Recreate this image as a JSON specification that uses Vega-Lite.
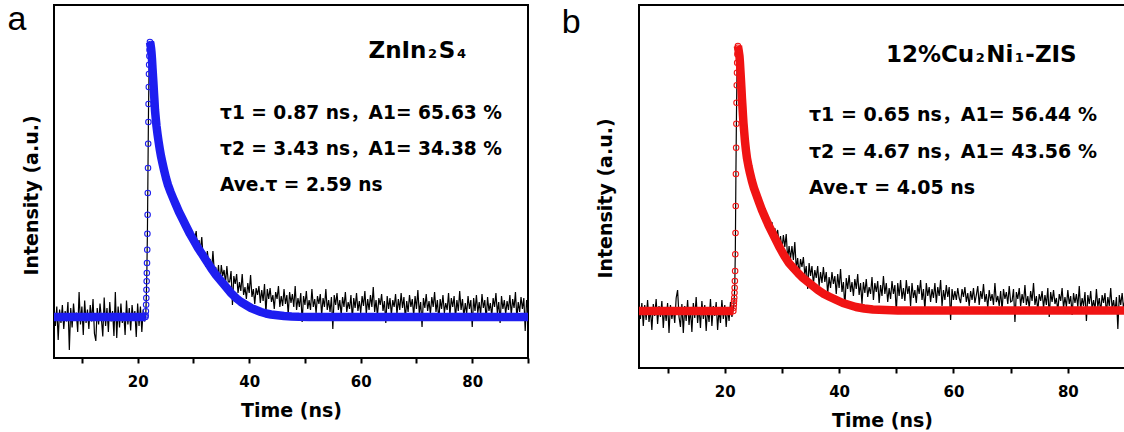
{
"$schema":"https://vega.github.io/schema/vega-lite/v6.json",
"padding":{"left":6,"top":2,"right":0,"bottom":0},
"spacing":30,
"background":"white",
"config":{"view":{"stroke":"#000000","strokeWidth":2},"axis":{"grid":false},"font":"DejaVu Sans"},
"datasets":{
"rawA":[{"t":5,"v":45.5},{"t":5.25,"v":32},{"t":5.5,"v":51.5},{"t":5.75,"v":18},{"t":6,"v":48.5},{"t":6.25,"v":35},{"t":6.5,"v":53},{"t":6.75,"v":29},{"t":7,"v":47},{"t":7.25,"v":36.5},{"t":7.5,"v":56},{"t":7.75,"v":8},{"t":8,"v":50},{"t":8.25,"v":30.5},{"t":8.5,"v":54.5},{"t":8.75,"v":38},{"t":9,"v":45.5},{"t":9.25,"v":26},{"t":9.5,"v":66},{"t":9.75,"v":33.5},{"t":10,"v":51.5},{"t":10.25,"v":23},{"t":10.5,"v":57.5},{"t":10.75,"v":35},{"t":11,"v":48.5},{"t":11.25,"v":29},{"t":11.5,"v":53},{"t":11.75,"v":36.5},{"t":12,"v":59},{"t":12.25,"v":24.5},{"t":12.5,"v":17},{"t":12.75,"v":50},{"t":13,"v":33.5},{"t":13.25,"v":54.5},{"t":13.5,"v":39.5},{"t":13.75,"v":21.5},{"t":14,"v":60.5},{"t":14.25,"v":32},{"t":14.5,"v":50},{"t":14.75,"v":26},{"t":15,"v":56},{"t":15.25,"v":36.5},{"t":15.5,"v":47},{"t":15.75,"v":22},{"t":16,"v":66},{"t":16.25,"v":20},{"t":16.5,"v":51.5},{"t":16.75,"v":30.5},{"t":17,"v":54.5},{"t":17.25,"v":35},{"t":17.5,"v":45.5},{"t":17.75,"v":23},{"t":18,"v":57.5},{"t":18.25,"v":33.5},{"t":18.5,"v":50},{"t":18.75,"v":27.5},{"t":19,"v":53},{"t":19.25,"v":38},{"t":19.5,"v":47},{"t":19.75,"v":21},{"t":20,"v":54.5},{"t":20.25,"v":32},{"t":20.5,"v":51.5},{"t":20.75,"v":26},{"t":21,"v":48.5},{"t":21.25,"v":36.5},
{"t":21.45,"v":42},{"t":21.55,"v":60},{"t":21.65,"v":86},{"t":21.75,"v":124},{"t":21.85,"v":187},{"t":21.95,"v":249},{"t":22.05,"v":290},{"t":22.15,"v":312},{"t":22.25,"v":314},{"t":22.4,"v":309},{"t":22.55,"v":300},{"t":22.7,"v":287},{"t":22.85,"v":272},{"t":23,"v":257},{"t":23.2,"v":241},{"t":23.4,"v":231},{"t":23.7,"v":218},{"t":24,"v":208},{"t":24.3,"v":199},{"t":24.6,"v":192},{"t":24.9,"v":184},{"t":25.2,"v":177},{"t":25.5,"v":172},{"t":25.75,"v":166},{"t":26,"v":163},{"t":26.25,"v":158},
{"t":26.5,"v":160},{"t":26.75,"v":153},{"t":27,"v":156},{"t":27.25,"v":149},{"t":27.5,"v":144},{"t":27.75,"v":148},{"t":28,"v":141},{"t":28.25,"v":143},{"t":28.5,"v":133},{"t":28.75,"v":134},{"t":29,"v":125},{"t":29.25,"v":130},{"t":29.5,"v":123},{"t":29.75,"v":127},{"t":30,"v":117},{"t":30.25,"v":120},{"t":30.5,"v":127},{"t":30.75,"v":106},{"t":31,"v":118},{"t":31.25,"v":108},{"t":31.5,"v":121},{"t":31.75,"v":100},{"t":32,"v":106},{"t":32.25,"v":91},{"t":32.5,"v":107},{"t":32.75,"v":94},{"t":33,"v":99},{"t":33.25,"v":86},{"t":33.5,"v":107},{"t":33.75,"v":86},{"t":34,"v":91},{"t":34.25,"v":79},{"t":34.5,"v":93},{"t":34.75,"v":73},{"t":35,"v":93},{"t":35.25,"v":82},{"t":35.5,"v":88},{"t":35.75,"v":75},{"t":36,"v":92},{"t":36.25,"v":76},{"t":36.5,"v":76},{"t":36.75,"v":87},{"t":37,"v":53},{"t":37.25,"v":82},{"t":37.5,"v":74},{"t":37.75,"v":84},{"t":38,"v":65},{"t":38.25,"v":76},{"t":38.5,"v":67},{"t":38.75,"v":84},{"t":39,"v":63},{"t":39.25,"v":71},{"t":39.5,"v":59},{"t":39.75,"v":75},{"t":40,"v":65},{"t":40.25,"v":83},{"t":40.5,"v":61},{"t":40.75,"v":69},{"t":41,"v":54},{"t":41.25,"v":70},{"t":41.5,"v":63},{"t":41.75,"v":72},{"t":42,"v":55},{"t":42.25,"v":68},{"t":42.5,"v":57},{"t":42.75,"v":74},{"t":43,"v":45},{"t":43.25,"v":69},{"t":43.5,"v":59},{"t":43.75,"v":70},{"t":44,"v":56},{"t":44.25,"v":63},{"t":44.5,"v":49},{"t":44.75,"v":66},{"t":45,"v":59},{"t":45.25,"v":72},{"t":45.5,"v":51},{"t":45.75,"v":62},{"t":46,"v":52},{"t":46.25,"v":69},{"t":46.5,"v":54},{"t":46.75,"v":63},{"t":47,"v":44},{"t":47.25,"v":66},{"t":47.5,"v":55},{"t":47.75,"v":64},{"t":48,"v":51},{"t":48.25,"v":72},{"t":48.5,"v":48},{"t":48.75,"v":60},{"t":49,"v":51},{"t":49.25,"v":65},{"t":49.5,"v":36},{"t":49.75,"v":62},{"t":50,"v":53},{"t":50.25,"v":67},{"t":50.5,"v":49},{"t":50.75,"v":58},{"t":51,"v":48},{"t":51.25,"v":69},{"t":51.5,"v":51},{"t":51.75,"v":59},{"t":52,"v":45},{"t":52.25,"v":62},{"t":52.5,"v":54},{"t":52.75,"v":64},{"t":53,"v":43},{"t":53.25,"v":60},{"t":53.5,"v":51},{"t":53.75,"v":69},{"t":54,"v":48},{"t":54.25,"v":58},{"t":54.5,"v":46},{"t":54.75,"v":61},{"t":55,"v":29},{"t":55.25,"v":63},{"t":55.5,"v":53},{"t":55.75,"v":65},{"t":56,"v":48},{"t":56.25,"v":58},{"t":56.5,"v":43},{"t":56.75,"v":61},{"t":57,"v":51},{"t":57.25,"v":66},{"t":57.5,"v":46},{"t":57.75,"v":56},{"t":58,"v":49},{"t":58.25,"v":63},{"t":58.5,"v":39},{"t":58.75,"v":60},{"t":59,"v":50},{"t":59.25,"v":65},{"t":59.5,"v":47},{"t":59.75,"v":57},{"t":60,"v":45},{"t":60.25,"v":62},{"t":60.5,"v":52},{"t":60.75,"v":67},{"t":61,"v":44},{"t":61.25,"v":59},{"t":61.5,"v":48},{"t":61.75,"v":63},{"t":62,"v":51},{"t":62.25,"v":71},{"t":62.5,"v":46},{"t":62.75,"v":58},{"t":63,"v":42},{"t":63.25,"v":60},{"t":63.5,"v":53},{"t":63.75,"v":64},{"t":64,"v":47},{"t":64.25,"v":57},{"t":64.5,"v":35},{"t":64.75,"v":62},{"t":65,"v":49},{"t":65.25,"v":60},{"t":65.5,"v":43},{"t":65.75,"v":58},{"t":66,"v":51},{"t":66.25,"v":64},{"t":66.5,"v":44},{"t":66.75,"v":59},{"t":67,"v":48},{"t":67.25,"v":65},{"t":67.5,"v":50},{"t":67.75,"v":61},{"t":68,"v":39},{"t":68.25,"v":57},{"t":68.5,"v":46},{"t":68.75,"v":63},{"t":69,"v":51},{"t":69.25,"v":59},{"t":69.5,"v":42},{"t":69.75,"v":62},{"t":70,"v":49},{"t":70.25,"v":68},{"t":70.5,"v":45},{"t":70.75,"v":56},{"t":71,"v":31},{"t":71.25,"v":60},{"t":71.5,"v":50},{"t":71.75,"v":64},{"t":72,"v":47},{"t":72.25,"v":57},{"t":72.5,"v":44},{"t":72.75,"v":61},{"t":73,"v":51},{"t":73.25,"v":66},{"t":73.5,"v":46},{"t":73.75,"v":58},{"t":74,"v":37},{"t":74.25,"v":59},{"t":74.5,"v":49},{"t":74.75,"v":63},{"t":75,"v":45},{"t":75.25,"v":55},{"t":75.5,"v":48},{"t":75.75,"v":65},{"t":76,"v":43},{"t":76.25,"v":60},{"t":76.5,"v":51},{"t":76.75,"v":62},{"t":77,"v":40},{"t":77.25,"v":58},{"t":77.5,"v":47},{"t":77.75,"v":67},{"t":78,"v":48},{"t":78.25,"v":59},{"t":78.5,"v":41},{"t":78.75,"v":55},{"t":79,"v":44},{"t":79.25,"v":62},{"t":79.5,"v":49},{"t":79.75,"v":58},{"t":80,"v":31},{"t":80.25,"v":60},{"t":80.5,"v":47},{"t":80.75,"v":63},{"t":81,"v":45},{"t":81.25,"v":56},{"t":81.5,"v":43},{"t":81.75,"v":64},{"t":82,"v":50},{"t":82.25,"v":58},{"t":82.5,"v":38},{"t":82.75,"v":61},{"t":83,"v":47},{"t":83.25,"v":55},{"t":83.5,"v":42},{"t":83.75,"v":60},{"t":84,"v":51},{"t":84.25,"v":65},{"t":84.5,"v":45},{"t":84.75,"v":56},{"t":85,"v":35},{"t":85.25,"v":62},{"t":85.5,"v":49},{"t":85.75,"v":58},{"t":86,"v":44},{"t":86.25,"v":57},{"t":86.5,"v":48},{"t":86.75,"v":63},{"t":87,"v":43},{"t":87.25,"v":59},{"t":87.5,"v":50},{"t":87.75,"v":66},{"t":88,"v":40},{"t":88.25,"v":56},{"t":88.5,"v":46},{"t":88.75,"v":61},{"t":89,"v":49},{"t":89.25,"v":60},{"t":89.5,"v":27},{"t":89.75,"v":58},{"t":90,"v":47}],
"fitA":[{"t":5,"v":41,"seg":"base"},{"t":6,"v":41,"seg":"base"},{"t":7,"v":41,"seg":"base"},{"t":8,"v":41,"seg":"base"},{"t":9,"v":41,"seg":"base"},{"t":10,"v":41,"seg":"base"},{"t":11,"v":41,"seg":"base"},{"t":12,"v":41,"seg":"base"},{"t":13,"v":41,"seg":"base"},{"t":14,"v":41,"seg":"base"},{"t":15,"v":41,"seg":"base"},{"t":16,"v":41,"seg":"base"},{"t":17,"v":41,"seg":"base"},{"t":18,"v":41,"seg":"base"},{"t":19,"v":41,"seg":"base"},{"t":20,"v":41,"seg":"base"},{"t":21,"v":41,"seg":"base"},{"t":21.4,"v":41,"seg":"base"},
{"t":21.44,"v":42.5,"seg":"rise"},{"t":21.48,"v":46.7,"seg":"rise"},{"t":21.52,"v":53.3,"seg":"rise"},{"t":21.55,"v":60,"seg":"rise"},{"t":21.58,"v":68.3,"seg":"rise"},{"t":21.62,"v":76.7,"seg":"rise"},{"t":21.65,"v":85,"seg":"rise"},{"t":21.68,"v":95,"seg":"rise"},{"t":21.72,"v":108.3,"seg":"rise"},{"t":21.75,"v":124.3,"seg":"rise"},{"t":21.79,"v":143.3,"seg":"rise"},{"t":21.82,"v":165,"seg":"rise"},{"t":21.86,"v":190,"seg":"rise"},{"t":21.89,"v":214.3,"seg":"rise"},{"t":21.93,"v":236,"seg":"rise"},{"t":21.96,"v":254,"seg":"rise"},{"t":22,"v":271,"seg":"rise"},{"t":22.03,"v":284,"seg":"rise"},{"t":22.06,"v":293.3,"seg":"rise"},{"t":22.1,"v":302,"seg":"rise"},{"t":22.13,"v":308,"seg":"rise"},{"t":22.16,"v":313,"seg":"rise"},
{"t":22.2,"v":316,"seg":"decay"},{"t":22.3,"v":314,"seg":"decay"},{"t":22.4,"v":310,"seg":"decay"},{"t":22.49,"v":305,"seg":"decay"},{"t":22.58,"v":298,"seg":"decay"},{"t":22.66,"v":290,"seg":"decay"},{"t":22.75,"v":282,"seg":"decay"},{"t":22.84,"v":274,"seg":"decay"},{"t":22.93,"v":265,"seg":"decay"},{"t":23.02,"v":257,"seg":"decay"},{"t":23.11,"v":248,"seg":"decay"},{"t":23.24,"v":240,"seg":"decay"},{"t":23.38,"v":232,"seg":"decay"},{"t":23.56,"v":224,"seg":"decay"},{"t":23.74,"v":217,"seg":"decay"},{"t":23.96,"v":209,"seg":"decay"},{"t":24.18,"v":202,"seg":"decay"},{"t":24.45,"v":195,"seg":"decay"},{"t":24.73,"v":188,"seg":"decay"},{"t":25.08,"v":180,"seg":"decay"},{"t":25.44,"v":173,"seg":"decay"},{"t":25.9,"v":166,"seg":"decay"},{"t":26.34,"v":160,"seg":"decay"},{"t":26.88,"v":153,"seg":"decay"},{"t":27.42,"v":146,"seg":"decay"},{"t":28.05,"v":139,"seg":"decay"},{"t":28.67,"v":132,"seg":"decay"},{"t":29.39,"v":124,"seg":"decay"},{"t":30.11,"v":117,"seg":"decay"},{"t":30.82,"v":110,"seg":"decay"},{"t":31.54,"v":104,"seg":"decay"},{"t":32.35,"v":97,"seg":"decay"},{"t":33.16,"v":90,"seg":"decay"},{"t":34.05,"v":83,"seg":"decay"},{"t":34.95,"v":77,"seg":"decay"},{"t":35.85,"v":71,"seg":"decay"},{"t":36.74,"v":65,"seg":"decay"},{"t":37.64,"v":60,"seg":"decay"},{"t":38.54,"v":56,"seg":"decay"},{"t":39.43,"v":53,"seg":"decay"},{"t":40.33,"v":50,"seg":"decay"},{"t":41.22,"v":48,"seg":"decay"},{"t":42.12,"v":46,"seg":"decay"},{"t":43.02,"v":44.5,"seg":"decay"},{"t":43.92,"v":43.5,"seg":"decay"},{"t":45.08,"v":42.7,"seg":"decay"},{"t":46.25,"v":42,"seg":"decay"},{"t":47.6,"v":41.5,"seg":"decay"},{"t":48.94,"v":41.2,"seg":"decay"},{"t":50.7,"v":41.1,"seg":"decay"},{"t":52.52,"v":41,"seg":"decay"},{"t":54,"v":41,"seg":"decay"},{"t":56,"v":41,"seg":"decay"},{"t":58,"v":41,"seg":"decay"},{"t":60,"v":41,"seg":"decay"},{"t":62,"v":41,"seg":"decay"},{"t":64,"v":41,"seg":"decay"},{"t":66,"v":41,"seg":"decay"},{"t":68,"v":41,"seg":"decay"},{"t":70,"v":41,"seg":"decay"},{"t":72,"v":41,"seg":"decay"},{"t":74,"v":41,"seg":"decay"},{"t":76,"v":41,"seg":"decay"},{"t":78,"v":41,"seg":"decay"},{"t":80,"v":41,"seg":"decay"},{"t":82,"v":41,"seg":"decay"},{"t":84,"v":41,"seg":"decay"},{"t":86,"v":41,"seg":"decay"},{"t":88,"v":41,"seg":"decay"},{"t":90,"v":41,"seg":"decay"}],
"rawB":[{"t":5,"v":60},{"t":5.25,"v":49},{"t":5.5,"v":65},{"t":5.75,"v":42},{"t":6,"v":63},{"t":6.25,"v":48},{"t":6.5,"v":68},{"t":6.75,"v":46},{"t":7,"v":59},{"t":7.25,"v":38},{"t":7.5,"v":64},{"t":7.75,"v":52},{"t":8,"v":69},{"t":8.25,"v":44},{"t":8.5,"v":62},{"t":8.75,"v":51},{"t":9,"v":67},{"t":9.25,"v":40},{"t":9.5,"v":61},{"t":9.75,"v":47},{"t":10,"v":65},{"t":10.25,"v":35},{"t":10.5,"v":63},{"t":10.75,"v":49},{"t":11,"v":59},{"t":11.25,"v":45},{"t":11.5,"v":70},{"t":11.75,"v":78},{"t":12,"v":51},{"t":12.25,"v":41},{"t":12.5,"v":64},{"t":12.75,"v":35},{"t":13,"v":62},{"t":13.25,"v":47},{"t":13.5,"v":68},{"t":13.75,"v":43},{"t":14,"v":59},{"t":14.25,"v":36},{"t":14.5,"v":65},{"t":14.75,"v":50},{"t":15,"v":71},{"t":15.25,"v":45},{"t":15.5,"v":61},{"t":15.75,"v":40},{"t":16,"v":67},{"t":16.25,"v":49},{"t":16.5,"v":63},{"t":16.75,"v":37},{"t":17,"v":60},{"t":17.25,"v":46},{"t":17.5,"v":69},{"t":17.75,"v":42},{"t":18,"v":62},{"t":18.25,"v":52},{"t":18.5,"v":66},{"t":18.75,"v":38},{"t":19,"v":59},{"t":19.25,"v":45},{"t":19.5,"v":68},{"t":19.75,"v":49},{"t":20,"v":63},{"t":20.25,"v":41},{"t":20.5,"v":61},{"t":20.75,"v":47},{"t":21,"v":66},{"t":21.25,"v":51},
{"t":21.45,"v":58},{"t":21.55,"v":61},{"t":21.65,"v":69},{"t":21.75,"v":82},{"t":21.85,"v":118},{"t":21.95,"v":194},{"t":22.05,"v":255},{"t":22.15,"v":300},{"t":22.25,"v":320},{"t":22.35,"v":318},{"t":22.5,"v":309},{"t":22.65,"v":300},{"t":22.8,"v":288},{"t":22.95,"v":276},{"t":23.1,"v":261},{"t":23.3,"v":243},{"t":23.5,"v":229},{"t":23.75,"v":214},{"t":24,"v":203},{"t":24.3,"v":195},{"t":24.6,"v":188},{"t":24.9,"v":183},{"t":25.2,"v":177},{"t":25.5,"v":172},{"t":25.8,"v":168},{"t":26.1,"v":163},{"t":26.4,"v":159},
{"t":26.5,"v":152},{"t":26.75,"v":159},{"t":27,"v":151},{"t":27.25,"v":157},{"t":27.5,"v":145},{"t":27.75,"v":147},{"t":28,"v":141},{"t":28.25,"v":146},{"t":28.5,"v":132},{"t":28.75,"v":140},{"t":29,"v":133},{"t":29.25,"v":138},{"t":29.5,"v":124},{"t":29.75,"v":132},{"t":30,"v":118},{"t":30.25,"v":133},{"t":30.5,"v":121},{"t":30.75,"v":134},{"t":31,"v":109},{"t":31.25,"v":122},{"t":31.5,"v":109},{"t":31.75,"v":122},{"t":32,"v":108},{"t":32.25,"v":126},{"t":32.5,"v":100},{"t":32.75,"v":110},{"t":33,"v":93},{"t":33.25,"v":109},{"t":33.5,"v":101},{"t":33.75,"v":111},{"t":34,"v":93},{"t":34.25,"v":102},{"t":34.5,"v":79},{"t":34.75,"v":105},{"t":35,"v":92},{"t":35.25,"v":102},{"t":35.5,"v":84},{"t":35.75,"v":98},{"t":36,"v":90},{"t":36.25,"v":102},{"t":36.5,"v":82},{"t":36.75,"v":96},{"t":37,"v":85},{"t":37.25,"v":101},{"t":37.5,"v":86},{"t":37.75,"v":96},{"t":38,"v":74},{"t":38.25,"v":91},{"t":38.5,"v":80},{"t":38.75,"v":96},{"t":39,"v":84},{"t":39.25,"v":92},{"t":39.5,"v":74},{"t":39.75,"v":94},{"t":40,"v":80},{"t":40.25,"v":99},{"t":40.5,"v":76},{"t":40.75,"v":86},{"t":41,"v":61},{"t":41.25,"v":90},{"t":41.5,"v":79},{"t":41.75,"v":93},{"t":42,"v":76},{"t":42.25,"v":86},{"t":42.5,"v":72},{"t":42.75,"v":89},{"t":43,"v":79},{"t":43.25,"v":94},{"t":43.5,"v":73},{"t":43.75,"v":85},{"t":44,"v":64},{"t":44.25,"v":86},{"t":44.5,"v":75},{"t":44.75,"v":89},{"t":45,"v":71},{"t":45.25,"v":81},{"t":45.5,"v":74},{"t":45.75,"v":91},{"t":46,"v":68},{"t":46.25,"v":85},{"t":46.5,"v":76},{"t":46.75,"v":87},{"t":47,"v":65},{"t":47.25,"v":83},{"t":47.5,"v":72},{"t":47.75,"v":92},{"t":48,"v":74},{"t":48.25,"v":85},{"t":48.5,"v":66},{"t":48.75,"v":80},{"t":49,"v":69},{"t":49.25,"v":87},{"t":49.5,"v":74},{"t":49.75,"v":83},{"t":50,"v":56},{"t":50.25,"v":85},{"t":50.5,"v":72},{"t":50.75,"v":88},{"t":51,"v":69},{"t":51.25,"v":80},{"t":51.5,"v":67},{"t":51.75,"v":88},{"t":52,"v":74},{"t":52.25,"v":82},{"t":52.5,"v":62},{"t":52.75,"v":85},{"t":53,"v":70},{"t":53.25,"v":78},{"t":53.5,"v":65},{"t":53.75,"v":83},{"t":54,"v":74},{"t":54.25,"v":88},{"t":54.5,"v":68},{"t":54.75,"v":79},{"t":55,"v":58},{"t":55.25,"v":85},{"t":55.5,"v":72},{"t":55.75,"v":81},{"t":56,"v":66},{"t":56.25,"v":79},{"t":56.5,"v":70},{"t":56.75,"v":85},{"t":57,"v":65},{"t":57.25,"v":81},{"t":57.5,"v":72},{"t":57.75,"v":88},{"t":58,"v":62},{"t":58.25,"v":78},{"t":58.5,"v":68},{"t":58.75,"v":83},{"t":59,"v":71},{"t":59.25,"v":81},{"t":59.5,"v":48},{"t":59.75,"v":79},{"t":60,"v":68},{"t":60.25,"v":77},{"t":60.5,"v":68},{"t":60.75,"v":80},{"t":61,"v":70},{"t":61.25,"v":65},{"t":61.5,"v":79},{"t":61.75,"v":71},{"t":62,"v":81},{"t":62.25,"v":66},{"t":62.5,"v":75},{"t":62.75,"v":62},{"t":63,"v":77},{"t":63.25,"v":68},{"t":63.5,"v":80},{"t":63.75,"v":65},{"t":64,"v":73},{"t":64.25,"v":82},{"t":64.5,"v":63},{"t":64.75,"v":77},{"t":65,"v":69},{"t":65.25,"v":84},{"t":65.5,"v":66},{"t":65.75,"v":74},{"t":66,"v":60},{"t":66.25,"v":78},{"t":66.5,"v":67},{"t":66.75,"v":74},{"t":67,"v":63},{"t":67.25,"v":85},{"t":67.5,"v":66},{"t":67.75,"v":72},{"t":68,"v":62},{"t":68.25,"v":77},{"t":68.5,"v":58},{"t":68.75,"v":79},{"t":69,"v":69},{"t":69.25,"v":76},{"t":69.5,"v":64},{"t":69.75,"v":82},{"t":70,"v":66},{"t":70.25,"v":67},{"t":70.5,"v":79},{"t":70.75,"v":46},{"t":71,"v":76},{"t":71.25,"v":69},{"t":71.5,"v":80},{"t":71.75,"v":62},{"t":72,"v":74},{"t":72.25,"v":65},{"t":72.5,"v":83},{"t":72.75,"v":63},{"t":73,"v":72},{"t":73.25,"v":60},{"t":73.5,"v":77},{"t":73.75,"v":67},{"t":74,"v":85},{"t":74.25,"v":63},{"t":74.5,"v":72},{"t":74.75,"v":57},{"t":75,"v":74},{"t":75.25,"v":67},{"t":75.5,"v":77},{"t":75.75,"v":60},{"t":76,"v":73},{"t":76.25,"v":63},{"t":76.5,"v":80},{"t":76.75,"v":51},{"t":77,"v":76},{"t":77.25,"v":66},{"t":77.5,"v":78},{"t":77.75,"v":64},{"t":78,"v":70},{"t":78.25,"v":57},{"t":78.5,"v":74},{"t":78.75,"v":67},{"t":79,"v":80},{"t":79.25,"v":60},{"t":79.5,"v":71},{"t":79.75,"v":61},{"t":80,"v":78},{"t":80.25,"v":64},{"t":80.5,"v":72},{"t":80.75,"v":53},{"t":81,"v":75},{"t":81.25,"v":65},{"t":81.5,"v":74},{"t":81.75,"v":61},{"t":82,"v":82},{"t":82.25,"v":58},{"t":82.5,"v":70},{"t":82.75,"v":62},{"t":83,"v":76},{"t":83.25,"v":47},{"t":83.5,"v":73},{"t":83.75,"v":64},{"t":84,"v":77},{"t":84.25,"v":59},{"t":84.5,"v":68},{"t":84.75,"v":58},{"t":85,"v":79},{"t":85.25,"v":61},{"t":85.5,"v":70},{"t":85.75,"v":56},{"t":86,"v":73},{"t":86.25,"v":65},{"t":86.5,"v":75},{"t":86.75,"v":54},{"t":87,"v":71},{"t":87.25,"v":62},{"t":87.5,"v":80},{"t":87.75,"v":59},{"t":88,"v":68},{"t":88.25,"v":56},{"t":88.5,"v":71},{"t":88.75,"v":39},{"t":89,"v":73},{"t":89.25,"v":63},{"t":89.5,"v":75},{"t":89.75,"v":59},{"t":90,"v":69}],
"fitB":[{"t":5,"v":57,"seg":"base"},{"t":6,"v":57,"seg":"base"},{"t":7,"v":57,"seg":"base"},{"t":8,"v":57,"seg":"base"},{"t":9,"v":57,"seg":"base"},{"t":10,"v":57,"seg":"base"},{"t":11,"v":57,"seg":"base"},{"t":12,"v":57,"seg":"base"},{"t":13,"v":57,"seg":"base"},{"t":14,"v":57,"seg":"base"},{"t":15,"v":57,"seg":"base"},{"t":16,"v":57,"seg":"base"},{"t":17,"v":57,"seg":"base"},{"t":18,"v":57,"seg":"base"},{"t":19,"v":57,"seg":"base"},{"t":20,"v":57,"seg":"base"},{"t":21,"v":57,"seg":"base"},{"t":21.5,"v":57,"seg":"base"},
{"t":21.55,"v":60.3,"seg":"rise"},{"t":21.59,"v":63.7,"seg":"rise"},{"t":21.62,"v":67,"seg":"rise"},{"t":21.66,"v":70.3,"seg":"rise"},{"t":21.7,"v":75.3,"seg":"rise"},{"t":21.73,"v":80.3,"seg":"rise"},{"t":21.77,"v":87,"seg":"rise"},{"t":21.81,"v":97,"seg":"rise"},{"t":21.84,"v":113.7,"seg":"rise"},{"t":21.88,"v":135,"seg":"rise"},{"t":21.92,"v":162,"seg":"rise"},{"t":21.95,"v":194,"seg":"rise"},{"t":21.99,"v":220.3,"seg":"rise"},{"t":22.03,"v":244.3,"seg":"rise"},{"t":22.06,"v":265.3,"seg":"rise"},{"t":22.1,"v":282.7,"seg":"rise"},{"t":22.14,"v":295.3,"seg":"rise"},{"t":22.17,"v":305.3,"seg":"rise"},{"t":22.21,"v":313.7,"seg":"rise"},{"t":22.25,"v":320.3,"seg":"rise"},
{"t":22.3,"v":322,"seg":"decay"},{"t":22.44,"v":317,"seg":"decay"},{"t":22.57,"v":312,"seg":"decay"},{"t":22.66,"v":305,"seg":"decay"},{"t":22.74,"v":297,"seg":"decay"},{"t":22.83,"v":288,"seg":"decay"},{"t":22.92,"v":279,"seg":"decay"},{"t":23,"v":270,"seg":"decay"},{"t":23.09,"v":262,"seg":"decay"},{"t":23.18,"v":253,"seg":"decay"},{"t":23.27,"v":245,"seg":"decay"},{"t":23.4,"v":236,"seg":"decay"},{"t":23.53,"v":227,"seg":"decay"},{"t":23.7,"v":218,"seg":"decay"},{"t":23.88,"v":210,"seg":"decay"},{"t":24.14,"v":202,"seg":"decay"},{"t":24.41,"v":195,"seg":"decay"},{"t":24.75,"v":187,"seg":"decay"},{"t":25.1,"v":180,"seg":"decay"},{"t":25.54,"v":173,"seg":"decay"},{"t":25.98,"v":166,"seg":"decay"},{"t":26.5,"v":158,"seg":"decay"},{"t":27.03,"v":151,"seg":"decay"},{"t":27.64,"v":143,"seg":"decay"},{"t":28.25,"v":136,"seg":"decay"},{"t":28.95,"v":128,"seg":"decay"},{"t":29.65,"v":120,"seg":"decay"},{"t":30.43,"v":112,"seg":"decay"},{"t":31.22,"v":105,"seg":"decay"},{"t":32,"v":100,"seg":"decay"},{"t":32.8,"v":95,"seg":"decay"},{"t":33.68,"v":90,"seg":"decay"},{"t":34.55,"v":86,"seg":"decay"},{"t":35.42,"v":82,"seg":"decay"},{"t":36.29,"v":78,"seg":"decay"},{"t":37.34,"v":74,"seg":"decay"},{"t":38.39,"v":71,"seg":"decay"},{"t":39.52,"v":68,"seg":"decay"},{"t":40.66,"v":65,"seg":"decay"},{"t":41.8,"v":63,"seg":"decay"},{"t":42.94,"v":61,"seg":"decay"},{"t":44.4,"v":59.5,"seg":"decay"},{"t":45.91,"v":58.5,"seg":"decay"},{"t":48.1,"v":58,"seg":"decay"},{"t":50.28,"v":57.5,"seg":"decay"},{"t":52,"v":57.5,"seg":"decay"},{"t":54,"v":57.5,"seg":"decay"},{"t":56,"v":57.5,"seg":"decay"},{"t":58,"v":57.5,"seg":"decay"},{"t":60,"v":57.5,"seg":"decay"},{"t":62,"v":57.5,"seg":"decay"},{"t":64,"v":57.5,"seg":"decay"},{"t":66,"v":57.5,"seg":"decay"},{"t":68,"v":57.5,"seg":"decay"},{"t":70,"v":57.5,"seg":"decay"},{"t":72,"v":57.5,"seg":"decay"},{"t":74,"v":57.5,"seg":"decay"},{"t":76,"v":57.5,"seg":"decay"},{"t":78,"v":57.5,"seg":"decay"},{"t":80,"v":57.5,"seg":"decay"},{"t":82,"v":57.5,"seg":"decay"},{"t":84,"v":57.5,"seg":"decay"},{"t":86,"v":57.5,"seg":"decay"},{"t":88,"v":57.5,"seg":"decay"},{"t":90,"v":57.5,"seg":"decay"}],
"txtA":[{"t":-3.32,"v":328,"text":"a","kind":"label"},{"t":61.4,"v":300,"text":"ZnIn","kind":"title"},{"t":72.07,"v":300,"text":"2","kind":"sub"},{"t":74.01,"v":300,"text":"S","kind":"title"},{"t":77.29,"v":300,"text":"4","kind":"sub"},{"t":34.77,"v":239.5,"text":"τ1 = 0.87 ns，A1= 65.63 %","kind":"line"},{"t":34.77,"v":202.7,"text":"τ2 = 3.43 ns，A1= 34.38 %","kind":"line"},{"t":34.77,"v":166.7,"text":"Ave.τ = 2.59 ns","kind":"line"}],
"txtB":[{"t":-8.5,"v":335,"text":"b","kind":"label"},{"t":48.18,"v":306.3,"text":"12%Cu","kind":"title"},{"t":63.88,"v":306.3,"text":"2","kind":"sub"},{"t":65.73,"v":306.3,"text":"Ni","kind":"title"},{"t":70.73,"v":306.3,"text":"1","kind":"sub"},{"t":72.57,"v":306.3,"text":"-ZIS","kind":"title"},{"t":34.72,"v":247,"text":"τ1 = 0.65 ns，A1= 56.44 %","kind":"line"},{"t":34.72,"v":210,"text":"τ2 = 4.67 ns，A1= 43.56 %","kind":"line"},{"t":34.72,"v":174,"text":"Ave.τ = 4.05 ns","kind":"line"}]
},
"hconcat":[
{"width":474,"height":353,
"encoding":{
"x":{"field":"t","type":"quantitative","scale":{"domain":[5,90],"nice":false,"zero":false},"axis":{"values":[10,20,30,40,50,60,70,80,90],"labelExpr":"datum.value % 20 === 0 ? datum.label : ''","title":"Time (ns)","domain":false,"grid":false,"tickSize":5,"tickWidth":2,"tickColor":"#000000","labelFont":"DejaVu Sans","labelFontWeight":"bold","labelFontSize":15,"labelColor":"#000000","labelPadding":11,"labelOverlap":false,"labelFlush":false,"titleFont":"DejaVu Sans","titleFontWeight":"bold","titleFontSize":19,"titleColor":"#000000","titlePadding":12}},
"y":{"field":"v","type":"quantitative","scale":{"domain":[0,353],"nice":false,"zero":false},"axis":{"title":"Intensity (a.u.)","labels":false,"ticks":false,"domain":false,"grid":false,"titleFont":"DejaVu Sans","titleFontWeight":"bold","titleFontSize":19,"titleColor":"#000000","titlePadding":13,"titleY":190}}
},
"layer":[
{"data":{"name":"rawA"},"mark":{"type":"line","color":"#000000","strokeWidth":1.2,"clip":true}},
{"data":{"name":"fitA"},"transform":[{"filter":"datum.seg !== 'rise'"}],"mark":{"type":"line","color":"#1e1ef0","strokeWidth":8.5,"strokeJoin":"round","strokeCap":"butt","clip":true},"encoding":{"detail":{"field":"seg"}}},
{"data":{"name":"fitA"},"mark":{"type":"point","shape":"circle","filled":false,"color":"#1e1ef0","size":30,"strokeWidth":1.1,"opacity":1,"clip":true}},
{"data":{"name":"txtA"},"transform":[{"filter":"datum.kind === 'label'"}],"mark":{"type":"text","align":"left","baseline":"alphabetic","font":"Liberation Sans","fontSize":34,"color":"#000000"},"encoding":{"text":{"field":"text"}}},
{"data":{"name":"txtA"},"transform":[{"filter":"datum.kind === 'title'"}],"mark":{"type":"text","align":"left","baseline":"alphabetic","font":"DejaVu Sans","fontWeight":"bold","fontSize":23,"color":"#000000"},"encoding":{"text":{"field":"text"}}},
{"data":{"name":"txtA"},"transform":[{"filter":"datum.kind === 'sub'"}],"mark":{"type":"text","align":"left","baseline":"alphabetic","font":"DejaVu Sans","fontWeight":"bold","fontSize":13,"color":"#000000"},"encoding":{"text":{"field":"text"}}},
{"data":{"name":"txtA"},"transform":[{"filter":"datum.kind === 'line'"}],"mark":{"type":"text","align":"left","baseline":"alphabetic","font":"DejaVu Sans, Noto Sans CJK SC","fontWeight":"bold","fontSize":18.6,"color":"#000000"},"encoding":{"text":{"field":"text"}}}
]},
{"width":486,"height":363,
"encoding":{
"x":{"field":"t","type":"quantitative","scale":{"domain":[5,90],"nice":false,"zero":false},"axis":{"values":[10,20,30,40,50,60,70,80,90],"labelExpr":"datum.value % 20 === 0 ? datum.label : ''","title":"Time (ns)","domain":false,"grid":false,"tickSize":5,"tickWidth":2,"tickColor":"#000000","labelFont":"DejaVu Sans","labelFontWeight":"bold","labelFontSize":15,"labelColor":"#000000","labelPadding":11,"labelOverlap":false,"labelFlush":false,"titleFont":"DejaVu Sans","titleFontWeight":"bold","titleFontSize":19,"titleColor":"#000000","titlePadding":12}},
"y":{"field":"v","type":"quantitative","scale":{"domain":[0,363],"nice":false,"zero":false},"axis":{"title":"Intensity (a.u.)","labels":false,"ticks":false,"domain":false,"grid":false,"titleFont":"DejaVu Sans","titleFontWeight":"bold","titleFontSize":19,"titleColor":"#000000","titlePadding":24,"titleY":193}}
},
"layer":[
{"data":{"name":"rawB"},"mark":{"type":"line","color":"#000000","strokeWidth":1.2,"clip":true}},
{"data":{"name":"fitB"},"transform":[{"filter":"datum.seg !== 'rise'"}],"mark":{"type":"line","color":"#f01414","strokeWidth":8.5,"strokeJoin":"round","strokeCap":"butt","clip":true},"encoding":{"detail":{"field":"seg"}}},
{"data":{"name":"fitB"},"mark":{"type":"point","shape":"circle","filled":false,"color":"#f01414","size":30,"strokeWidth":1.1,"opacity":1,"clip":true}},
{"data":{"name":"txtB"},"transform":[{"filter":"datum.kind === 'label'"}],"mark":{"type":"text","align":"left","baseline":"alphabetic","font":"Liberation Sans","fontSize":34,"color":"#000000"},"encoding":{"text":{"field":"text"}}},
{"data":{"name":"txtB"},"transform":[{"filter":"datum.kind === 'title'"}],"mark":{"type":"text","align":"left","baseline":"alphabetic","font":"DejaVu Sans","fontWeight":"bold","fontSize":23,"color":"#000000"},"encoding":{"text":{"field":"text"}}},
{"data":{"name":"txtB"},"transform":[{"filter":"datum.kind === 'sub'"}],"mark":{"type":"text","align":"left","baseline":"alphabetic","font":"DejaVu Sans","fontWeight":"bold","fontSize":13,"color":"#000000"},"encoding":{"text":{"field":"text"}}},
{"data":{"name":"txtB"},"transform":[{"filter":"datum.kind === 'line'"}],"mark":{"type":"text","align":"left","baseline":"alphabetic","font":"DejaVu Sans, Noto Sans CJK SC","fontWeight":"bold","fontSize":19,"color":"#000000"},"encoding":{"text":{"field":"text"}}}
]}
]
}
